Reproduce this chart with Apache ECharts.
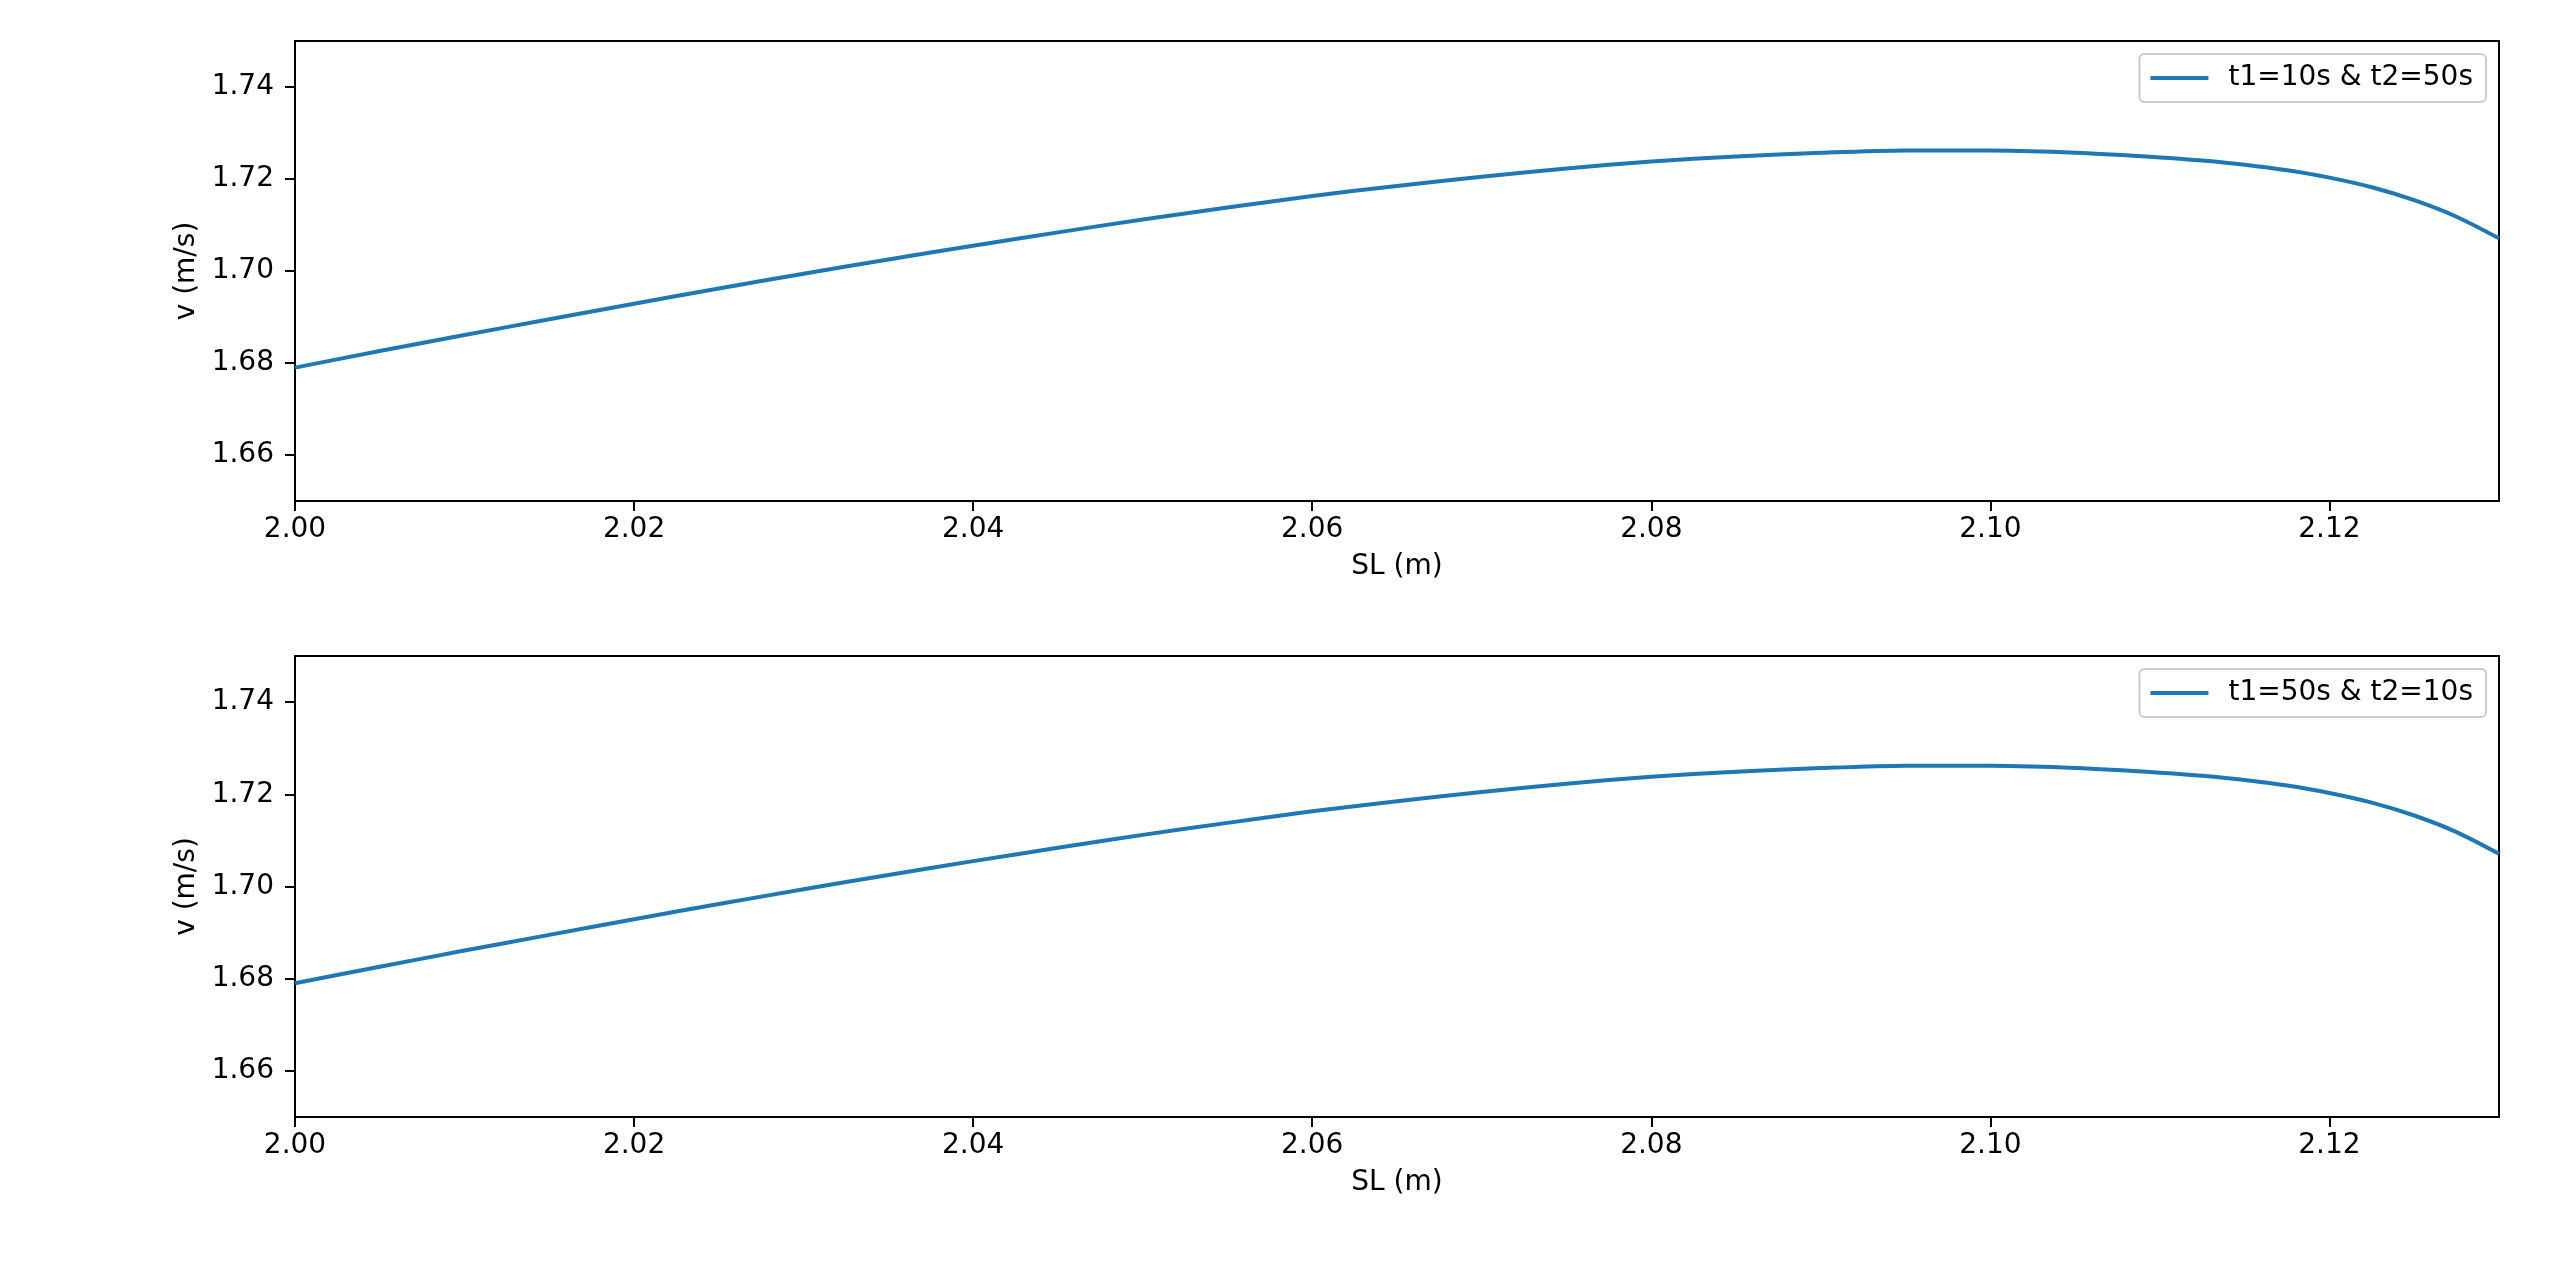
<!DOCTYPE html>
<html>
<head>
<meta charset="utf-8">
<script src="https://cdn.jsdelivr.net/npm/echarts@6/dist/echarts.min.js"></script>
<style>
html,body{margin:0;padding:0;background:#fff;}
#chart{width:2560px;height:1270px;}
</style>
</head>
<body>
<div id="chart"></div>
<script>
// ---- data ----
const slValues = [2.000,2.005,2.010,2.015,2.020,2.025,2.030,2.035,2.040,2.045,2.050,2.055,2.060,2.065,2.070,2.075,2.080,2.085,2.090,2.095,2.100,2.105,2.110,2.1125,2.115,2.1175,2.120,2.1225,2.125,2.1275,2.130];
const vTop = [1.6790,1.6826,1.6861,1.6895,1.6929,1.6962,1.6994,1.7025,1.7055,1.7084,1.7112,1.7138,1.7163,1.7185,1.7205,1.7223,1.7238,1.7249,1.7257,1.72622,1.72618,1.7257,1.7247,1.7240,1.7231,1.7219,1.7203,1.7182,1.7154,1.7118,1.7071];
const vBottom = [1.6790,1.6826,1.6861,1.6895,1.6929,1.6962,1.6994,1.7025,1.7055,1.7084,1.7112,1.7138,1.7163,1.7185,1.7205,1.7223,1.7238,1.7249,1.7257,1.72622,1.72618,1.7257,1.7247,1.7240,1.7231,1.7219,1.7203,1.7182,1.7154,1.7118,1.7071];
const seriesNames = ['t1=10s & t2=50s', 't1=50s & t2=10s'];
const xTicks = [2.00,2.02,2.04,2.06,2.08,2.10,2.12];
const yTicks = [1.66,1.68,1.70,1.72,1.74];
const xRange = [2.00, 2.13];
const yRange = [1.65, 1.75];
const xLabel = 'SL (m)';
const yLabel = 'v (m/s)';

const FONT = 'DejaVu Sans';
const grids = [
  {left: 295, top: 41, width: 2204, height: 460},
  {left: 295, top: 656, width: 2204, height: 461}
];
const lineStyleAxis = {color: '#000', width: 2};

function xAxis(i){
  return {
    type: 'value', gridIndex: i, min: xRange[0], max: xRange[1],
    name: xLabel, nameLocation: 'middle', nameGap: 52,
    nameTextStyle: {fontFamily: FONT, fontSize: 28, color: '#000'},
    axisLine: {show: true, onZero: false, lineStyle: lineStyleAxis},
    axisTick: {show: true, length: 10, lineStyle: lineStyleAxis, customValues: xTicks},
    axisLabel: {fontFamily: FONT, fontSize: 28, color: '#000', margin: 15,
      customValues: xTicks, formatter: v => v.toFixed(2)},
    splitLine: {show: false}
  };
}
function yAxis(i){
  return {
    type: 'value', gridIndex: i, min: yRange[0], max: yRange[1],
    name: yLabel, nameLocation: 'middle', nameGap: 90, nameRotate: 90,
    nameTextStyle: {fontFamily: FONT, fontSize: 28, color: '#000'},
    axisLine: {show: true, onZero: false, lineStyle: lineStyleAxis},
    axisTick: {show: true, length: 10, lineStyle: lineStyleAxis, customValues: yTicks},
    axisLabel: {fontFamily: FONT, fontSize: 28, color: '#000', margin: 21,
      customValues: yTicks, formatter: v => v.toFixed(2)},
    splitLine: {show: false}
  };
}
function legend(i){
  return {
    data: [seriesNames[i]],
    right: 74, top: grids[i].top + 13,
    orient: 'vertical',
    padding: [10, 13, 10, 11],
    backgroundColor: 'rgba(255,255,255,0.8)',
    borderColor: '#cccccc', borderWidth: 2, borderRadius: 5,
    icon: 'rect', itemWidth: 58, itemHeight: 4,
    textStyle: {fontFamily: FONT, fontSize: 28, color: '#000', padding: [0,0,0,15]}
  };
}
function series(i, data){
  return {
    type: 'line', name: seriesNames[i], xAxisIndex: i, yAxisIndex: i,
    data: slValues.map((x, k) => [x, data[k]]),
    showSymbol: false, symbol: 'none', smooth: 0.25,
    lineStyle: {color: '#1f77b4', width: 4},
    itemStyle: {color: '#1f77b4'},
    clip: true
  };
}

const chart = echarts.init(document.getElementById('chart'), null, {renderer: 'canvas'});
chart.setOption({
  animation: false,
  backgroundColor: '#fff',
  grid: grids.map(g => Object.assign({show: true, borderColor: '#000', borderWidth: 2, backgroundColor: 'transparent'}, g)),
  xAxis: [xAxis(0), xAxis(1)],
  yAxis: [yAxis(0), yAxis(1)],
  legend: [legend(0), legend(1)],
  series: [series(0, vTop), series(1, vBottom)]
});
</script>
</body>
</html>
